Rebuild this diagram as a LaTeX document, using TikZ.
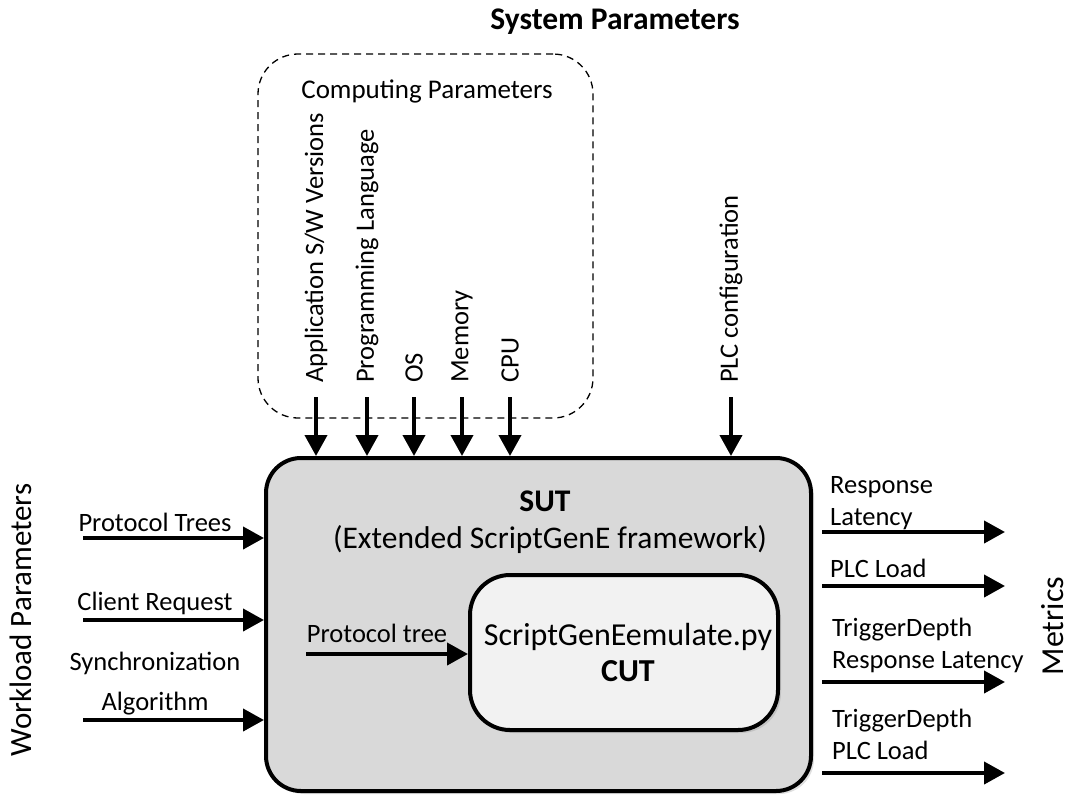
\documentclass[tikz,border=0pt]{standalone}
\usepackage{fontspec}
\setmainfont{Carlito}
\usetikzlibrary{arrows.meta,shadows,calc}
\definecolor{sutfill}{HTML}{D9D9D9}
\definecolor{cutfill}{HTML}{F2F2F2}
\begin{document}
\begin{tikzpicture}[x=1pt,y=-1pt,
  lbl/.style={font=\fontsize{26.5}{32}\selectfont, inner sep=0pt, align=center},
  rlbl/.style={font=\fontsize{26.5}{32}\selectfont, inner sep=0pt, align=left, anchor=west},
  vlbl/.style={font=\fontsize{26.5}{32}\selectfont, inner sep=0pt, rotate=90, anchor=west},
  flow/.style={line width=4pt, -{Triangle[length=21pt,width=22pt]}},
  soft/.style={drop shadow={opacity=0.25, shadow xshift=3pt, shadow yshift=-3pt}},
]
\useasboundingbox (0,0) rectangle (1071,796);

% heading
\node[font=\bfseries\fontsize{31.5}{36}\selectfont, inner sep=0pt] (sys) at (615,22) {System Parameters};

% computing parameter group
\node[draw, dash pattern=on 7pt off 5pt, line width=1.3pt, rounded corners=40pt,
      minimum width=335, minimum height=364] (comp) at (425.5,236) {};
\node[lbl, font=\fontsize{27}{32}\selectfont] (compt) at (427,91) {Computing Parameters};

% system under test
\node[draw, line width=4pt, rounded corners=35pt, fill=sutfill, soft,
      minimum width=545, minimum height=333] (sut) at (538.5,624.5) {};
\node[font=\bfseries\fontsize{31.5}{37}\selectfont, inner sep=0pt] (sutt) at (545,501) {SUT};
\node[font=\fontsize{31.5}{37}\selectfont, inner sep=0pt] (sutd) at (550,540) {(Extended ScriptGenE framework)};

% component under test
\node[draw, line width=4pt, rounded corners=40pt, fill=cutfill, soft,
      minimum width=308, minimum height=155] (cut) at (624,652.5) {};
\node[font=\fontsize{32}{36}\selectfont, inner sep=0pt, align=center] (cutt) at (628,652)
  {ScriptGenEemulate.py\\\textbf{CUT}};

% inner input
\node[lbl] (ptree) at (377,633) {Protocol tree};
\coordinate (p0) at (306,654);
\draw[flow] (p0) -- (p0 -| cut.west);

% computing inputs from above
\foreach \i/\x/\t in {1/316/{Application S/W Versions}, 2/367/{Programming Language},
                      3/414/{OS}, 4/462/{Memory}, 5/510/{CPU}, 6/731/{PLC configuration}} {
  \node[vlbl] (l\i) at (\x,383) {\t};
  \coordinate (a\i) at (\x,397);
  \draw[flow] (a\i) -- (a\i |- sut.north);
}

% workload inputs
\node[font=\fontsize{31}{37}\selectfont, inner sep=0pt, rotate=90] (wl) at (21,620) {Workload Parameters};
\node[lbl] (w1t) at (155,522) {Protocol Trees};
\node[lbl] (w2t) at (155,603) {Client Request};
\node[lbl, font=\fontsize{26.5}{40}\selectfont] (w3t) at (155,684) {Synchronization\\Algorithm};
\coordinate (w1) at (83,538);
\coordinate (w2) at (83,620);
\coordinate (w3) at (83,720);
\foreach \i in {1,2,3} \draw[flow] (w\i) -- (w\i -| sut.west);

% metrics
\node[font=\fontsize{32}{37}\selectfont, inner sep=0pt, rotate=90] (met) at (1053,626) {Metrics};
\node[rlbl] (m1t) at (830,503) {Response\\Latency};
\node[rlbl] (m2t) at (830,568) {PLC Load};
\node[rlbl] (m3t) at (832,645) {TriggerDepth\\Response Latency};
\node[rlbl] (m4t) at (832,734) {TriggerDepth\\PLC Load};
\foreach \i/\y in {1/532, 2/586, 3/682, 4/773} {
  \coordinate (s\i) at (822,\y);
  \coordinate (m\i) at (1005,\y);
  \draw[flow] (s\i) -- (m\i);
}
\end{tikzpicture}
\end{document}
